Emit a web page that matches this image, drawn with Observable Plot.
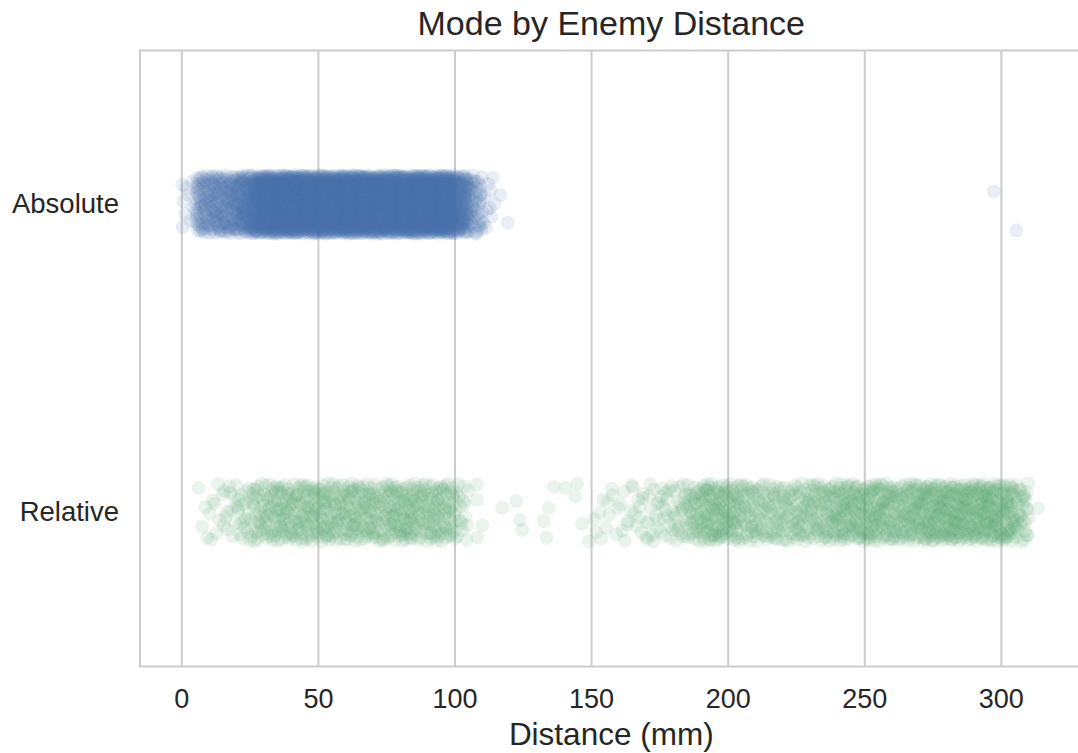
<!DOCTYPE html>
<html><head><meta charset="utf-8">
<script src="https://cdn.jsdelivr.net/npm/d3@7"></script>
<script src="https://cdn.jsdelivr.net/npm/@observablehq/plot@0.6"></script>
<style>html,body{margin:0;padding:0;overflow:hidden;background:#fff}</style>
</head><body><div id="chart"></div>
<script>
// ---- data ----
const categories = ["Absolute", "Relative"];
const colors = ["#4C72B0", "#55A868"];
const xTicks = [0, 50, 100, 150, 200, 250, 300];
const title = "Mode by Enemy Distance";
const xLabel = "Distance (mm)";
const binWidth = 5; // mm

// Absolute: approximate number of points in each 5 mm bin (bin start, count)
const absoluteBinStarts = [0, 5, 10, 15, 20, 25, 30, 35, 40, 45, 50, 55, 60, 65, 70, 75, 80, 85, 90, 95, 100, 105, 110];
const absoluteBinCounts = [8, 60, 70, 75, 100, 150, 200, 200, 200, 200, 200, 200, 200, 200, 200, 200, 200, 200, 200, 190, 110, 45, 10];
// Absolute: isolated points (distance, offset from category line)
const absoluteSingleX = [0.15, 116.7, 119.3, 297.2, 305.5];
const absoluteSingleOff = [-0.064, -0.031, 0.059, -0.042, 0.084];

// Relative: approximate number of points in each 5 mm bin
const relativeBinStarts = [5, 10, 15, 20, 25, 30, 35, 40, 45, 50, 55, 60, 65, 70, 75, 80, 85, 90, 95, 100,
  150, 155, 160, 165, 170, 175, 180, 185, 190, 195, 200, 205, 210, 215, 220, 225, 230, 235, 240, 245,
  250, 255, 260, 265, 270, 275, 280, 285, 290, 295, 300, 305];
const relativeBinCounts = [4, 8, 12, 18, 26, 34, 36, 36, 36, 38, 34, 38, 36, 34, 38, 40, 36, 36, 34, 16,
  5, 7, 8, 10, 14, 16, 20, 32, 44, 44, 38, 32, 30, 30, 30, 32, 34, 38, 44, 44,
  44, 44, 40, 44, 50, 52, 52, 52, 52, 52, 48, 30];
// Relative: isolated points in the sparse stretch
const relativeSingleX = [107.9, 108.1, 110.0, 108.1, 117.3, 122.5, 123.7, 124.6, 133.5, 132.5, 134.3, 136.2, 140.4, 144.7, 144.1, 146.6, 149.0, 313.5];
const relativeSingleOff = [-0.091, -0.041, 0.042, 0.081, -0.015, -0.037, 0.024, 0.056, 0.082, 0.028, -0.015, -0.084, -0.080, -0.093, -0.052, 0.037, 0.093, -0.013];

// ---- build point table (deterministic spread of each bin's points) ----
const jitter = 0.095;
function halton(i, b) { let f = 1, r = 0; while (i > 0) { f /= b; r += f * (i % b); i = Math.floor(i / b); } return r; }
const points = [];
let g = 1;
function addBins(ci, starts, counts) {
  starts.forEach((s, k) => {
    for (let i = 0; i < counts[k]; i++, g++) {
      points.push({mode: categories[ci], x: s + binWidth * halton(g, 2), y: ci + (2 * halton(g, 3) - 1) * jitter});
    }
  });
}
function addSingles(ci, xs, offs) {
  xs.forEach((x, k) => points.push({mode: categories[ci], x, y: ci + offs[k]}));
}
addBins(0, absoluteBinStarts, absoluteBinCounts);
addSingles(0, absoluteSingleX, absoluteSingleOff);
addBins(1, relativeBinStarts, relativeBinCounts);
addSingles(1, relativeSingleX, relativeSingleOff);

const font = "'Liberation Sans', Arial, Helvetica, sans-serif";
const chart = Plot.plot({
  width: 1083, height: 753,
  marginLeft: 139.5, marginRight: 1, marginTop: 50, marginBottom: 87,
  style: {fontFamily: font, color: "#262626", background: "#fff", overflow: "visible", maxWidth: "none"},
  x: {domain: [-15.3, 329.7]},
  y: {domain: [-0.5, 1.5], reverse: true},
  color: {domain: categories, range: colors},
  marks: [
    Plot.ruleX(xTicks, {stroke: "#cccccc", strokeWidth: 2}),
    Plot.dot(points, {x: "x", y: "y", r: 7, fill: "mode", fillOpacity: 0.12, stroke: null}),
    Plot.frame({stroke: "#cccccc", strokeWidth: 2}),
    Plot.axisX(xTicks, {tickSize: 0, tickPadding: 22, fontSize: 27, label: null, fill: "#262626"}),
    Plot.axisY([0, 1], {tickFormat: i => categories[i], tickSize: 0, tickPadding: 21, fontSize: 27.5, label: null, fill: "#262626"}),
    Plot.text([xLabel], {text: d => d, frameAnchor: "bottom", dy: 78, lineAnchor: "bottom", fontSize: 31.5, fill: "#262626"}),
    Plot.text([title], {text: d => d, frameAnchor: "top", dy: -16, lineAnchor: "bottom", fontSize: 34, fill: "#262626"})
  ]
});
document.getElementById("chart").appendChild(chart);
</script>
</body></html>
